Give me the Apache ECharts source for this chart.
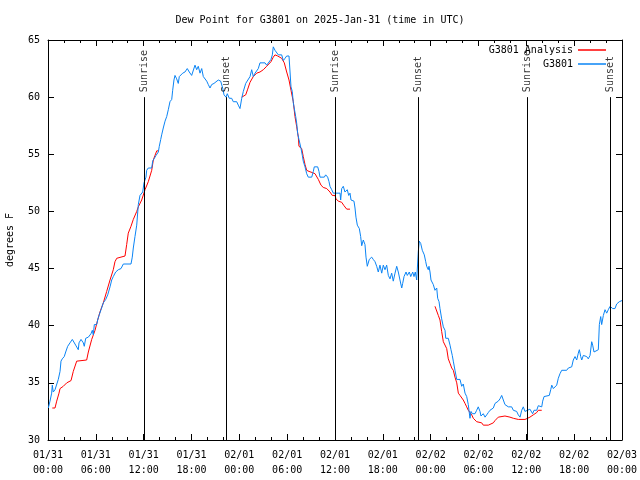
<!DOCTYPE html>
<html>
<head>
<meta charset="utf-8">
<script src="https://cdn.jsdelivr.net/npm/echarts@6/dist/echarts.min.js"></script>
<style>html,body{margin:0;padding:0;background:#fff}#c{width:640px;height:480px}</style>
</head>
<body>
<div id="c"></div>
<script>
// hours since 2025-01-31 00:00 UTC
const xTickLabels = ['01/31\n00:00','01/31\n06:00','01/31\n12:00','01/31\n18:00','02/01\n00:00','02/01\n06:00','02/01\n12:00','02/01\n18:00','02/02\n00:00','02/02\n06:00','02/02\n12:00','02/02\n18:00','02/03\n00:00'];
const sunriseHours = [12.08, 36.04, 60.13];
const sunsetHours = [22.37, 46.45, 70.54];

const observed = [
[0.04,32.8],[0.25,33.4],[0.46,34.1],[0.54,34.8],[0.66,34.2],[0.88,34.4],[1.09,34.5],[1.29,35.3],[1.51,36.0],[1.63,36.9],[1.79,37.1],[2.04,37.3],[2.22,37.7],[2.47,38.2],[2.76,38.5],[3.05,38.8],[3.30,38.9],[3.47,38.3],[3.64,38.2],[3.80,37.9],[3.89,38.5],[4.14,38.8],[4.43,38.5],[4.55,38.2],[4.73,38.9],[5.06,39.0],[5.39,39.3],[5.56,39.6],[5.68,39.2],[5.81,40.1],[6.11,40.1],[6.23,40.5],[6.40,40.9],[6.65,41.4],[6.94,42.0],[7.24,42.3],[7.49,42.7],[7.78,43.4],[7.99,44.0],[8.19,44.3],[8.49,44.7],[8.82,44.9],[9.16,45.0],[9.45,45.4],[10.41,45.4],[10.57,46.0],[10.70,46.8],[10.91,47.8],[11.13,48.8],[11.33,50.6],[11.54,51.4],[11.88,51.7],[12.04,52.5],[12.29,53.0],[12.38,53.6],[12.58,53.8],[13.01,53.8],[13.13,54.4],[13.30,54.6],[13.55,54.9],[13.71,54.9],[13.84,55.2],[13.96,55.7],[14.14,56.3],[14.26,56.7],[14.46,57.3],[14.68,57.9],[14.89,58.3],[15.09,58.9],[15.30,59.6],[15.52,59.8],[15.64,60.6],[15.80,61.5],[15.93,61.9],[16.14,61.6],[16.34,61.2],[16.47,61.8],[16.65,61.9],[16.90,62.1],[17.18,62.2],[17.47,62.5],[17.72,62.2],[18.02,61.9],[18.23,61.9],[18.44,62.8],[18.65,62.4],[18.85,62.7],[19.07,62.1],[19.28,62.5],[19.48,61.8],[19.69,61.9],[19.91,61.4],[20.11,61.1],[20.32,60.8],[20.53,61.1],[20.82,61.2],[21.07,61.3],[21.36,61.5],[21.66,61.4],[21.91,60.8],[22.08,60.2],[22.33,60.0],[22.49,60.3],[22.74,59.9],[23.04,59.9],[23.24,59.6],[23.67,59.6],[23.87,59.3],[24.08,59.0],[24.30,59.9],[24.50,60.5],[24.80,61.2],[25.05,61.3],[25.34,61.8],[25.55,62.4],[25.75,61.8],[25.97,62.1],[26.18,62.1],[26.38,62.5],[26.59,63.0],[27.22,63.0],[27.43,62.8],[27.63,62.9],[27.97,63.3],[28.14,63.7],[28.26,64.4],[28.47,64.1],[28.69,64.0],[28.89,63.7],[29.10,63.6],[29.31,63.7],[29.52,63.2],[29.73,63.4],[29.94,63.6],[30.23,63.6],[30.36,62.2],[30.48,60.9],[30.64,60.5],[30.77,59.5],[30.89,59.6],[31.07,58.3],[31.20,57.7],[31.32,56.8],[31.48,56.3],[31.74,55.5],[31.90,54.9],[32.02,54.4],[32.24,53.9],[32.45,53.3],[32.65,53.0],[33.08,53.0],[33.28,53.5],[33.40,53.9],[33.83,53.9],[33.99,53.5],[34.12,53.0],[34.66,53.0],[34.83,53.2],[35.08,53.0],[35.25,52.6],[35.37,52.2],[35.59,51.9],[35.79,51.6],[36.63,51.6],[36.71,51.0],[36.84,52.0],[37.04,52.2],[37.25,51.7],[37.38,51.6],[37.54,51.9],[37.72,51.4],[37.88,51.6],[38.01,51.0],[38.22,51.1],[38.38,50.9],[38.51,50.3],[38.63,49.5],[38.80,48.8],[39.05,48.5],[39.22,47.8],[39.35,47.0],[39.55,47.5],[39.76,47.1],[39.89,46.0],[40.05,45.2],[40.30,45.8],[40.60,46.0],[40.80,45.8],[41.02,45.6],[41.23,45.2],[41.43,44.7],[41.64,45.3],[41.86,44.6],[42.06,45.3],[42.27,44.9],[42.48,45.3],[42.69,44.4],[42.90,44.1],[43.11,44.6],[43.31,43.9],[43.53,44.6],[43.74,45.2],[43.94,44.7],[44.15,44.0],[44.37,43.3],[44.49,43.7],[44.66,44.3],[44.91,44.7],[45.07,44.4],[45.32,44.7],[45.50,44.3],[45.75,44.7],[45.91,44.3],[46.07,44.7],[46.25,44.0],[46.37,43.9],[46.45,46.5],[46.57,47.4],[46.75,47.2],[46.95,46.6],[47.20,46.2],[47.38,45.6],[47.50,45.2],[47.70,44.9],[47.79,45.2],[47.92,44.7],[48.04,44.0],[48.20,43.9],[48.33,43.6],[48.54,43.1],[48.76,43.3],[48.88,42.4],[49.05,42.1],[49.17,41.5],[49.38,40.6],[49.59,39.9],[49.80,39.6],[49.89,38.9],[50.21,38.9],[50.43,38.3],[50.55,37.9],[50.71,37.4],[50.84,36.9],[51.05,36.1],[51.27,35.3],[51.68,35.3],[51.89,34.7],[52.09,34.9],[52.31,34.1],[52.52,33.8],[52.72,33.1],[52.93,31.9],[53.06,32.5],[53.23,32.3],[53.56,32.3],[53.77,32.6],[53.97,32.9],[54.19,32.5],[54.31,32.1],[54.60,32.3],[54.82,32.0],[55.03,32.2],[55.23,32.4],[55.44,32.6],[55.66,32.5],[55.86,32.8],[56.07,33.2],[56.29,33.3],[56.48,33.4],[56.70,33.6],[56.91,33.9],[57.11,33.9],[57.32,33.1],[57.54,33.1],[57.74,32.9],[58.16,32.9],[58.37,32.6],[58.58,32.6],[58.79,32.5],[58.99,32.2],[59.21,32.0],[59.42,32.6],[59.62,32.9],[59.83,32.5],[60.04,32.6],[60.45,32.7],[60.79,32.3],[60.96,32.6],[61.30,32.6],[61.50,33.0],[61.72,33.1],[61.93,32.9],[62.05,33.4],[62.22,33.8],[62.47,33.9],[62.88,33.9],[63.06,34.4],[63.19,34.8],[63.39,34.5],[63.60,34.4],[63.81,34.8],[64.01,35.4],[64.22,35.8],[64.44,36.1],[65.06,36.1],[65.27,36.3],[65.69,36.4],[65.89,37.0],[66.11,37.3],[66.32,37.0],[66.52,37.6],[66.65,37.9],[66.82,37.3],[66.95,37.0],[67.15,37.4],[67.36,37.4],[67.57,37.3],[67.77,37.1],[67.99,37.4],[68.20,38.6],[68.32,38.3],[68.49,37.7],[68.74,37.8],[69.03,37.9],[69.16,40.1],[69.33,40.8],[69.45,40.1],[69.66,40.9],[69.87,41.4],[70.08,41.1],[70.28,41.4],[70.50,41.7],[70.83,41.5],[71.12,41.5],[71.33,41.9],[71.66,42.1],[71.84,42.0],[72.0,42.2]
];

const analysis1 = [[0.54,32.8],[0.88,32.8],[1.09,33.4],[1.38,34.1],[1.51,34.5],[1.92,34.7],[2.35,35.0],[2.89,35.2],[3.17,36.0],[3.60,36.9],[3.80,36.9],[4.85,37.0],[5.06,37.7],[5.48,38.8],[5.90,39.6],[6.23,40.5],[6.52,41.2],[6.94,42.0],[7.36,43.0],[7.78,44.0],[8.19,44.9],[8.40,45.6],[8.62,45.9],[9.66,46.1],[9.87,47.1],[10.07,48.1],[10.41,48.7],[10.70,49.3],[11.13,50.0],[11.33,50.4],[11.75,51.0],[12.17,51.9],[12.58,52.6],[13.01,53.6],[13.21,54.5],[13.42,54.9],[13.64,55.3],[13.84,55.3]];
const analysis2 = [[24.30,60.0],[24.80,60.2],[25.05,60.7],[25.34,61.3],[25.75,61.8],[26.18,62.1],[26.59,62.2],[27.01,62.4],[27.43,62.7],[27.63,62.7],[27.97,63.1],[28.26,63.5],[28.47,63.7],[28.81,63.6],[29.31,63.4],[29.64,63.0],[29.94,62.2],[30.23,61.5],[30.48,60.6],[30.77,59.6],[30.98,58.3],[31.20,57.4],[31.40,56.5],[31.48,55.7],[31.82,55.5],[32.02,54.8],[32.24,54.1],[32.45,53.6],[32.74,53.5],[33.15,53.4],[33.49,53.3],[33.70,53.2],[33.91,52.8],[34.24,52.3],[34.53,52.1],[34.96,52.0],[35.37,51.7],[35.66,51.4],[36.00,51.4],[36.13,51.1],[36.41,50.9],[36.84,50.8],[37.13,50.5],[37.47,50.2],[37.88,50.2]];
const analysis3 = [[48.54,41.7],[48.76,41.7],[48.96,40.9],[49.17,40.5],[49.38,39.5],[49.59,38.6],[49.80,38.5],[50.01,38.0],[50.21,37.1],[50.43,36.7],[50.64,36.3],[50.84,36.1],[51.05,35.5],[51.27,35.0],[51.47,34.1],[51.68,33.9],[51.89,33.8],[52.09,33.5],[52.31,33.2],[52.52,32.9],[52.72,32.6],[53.15,32.2],[53.35,31.9],[53.77,31.6],[54.40,31.5],[54.60,31.3],[55.23,31.3],[55.86,31.5],[56.07,31.7],[56.48,32.0],[57.32,32.1],[57.95,32.0],[58.37,31.9],[58.99,31.8],[59.83,31.8],[60.16,31.9],[60.45,32.0],[60.87,32.2],[61.30,32.4],[61.50,32.6],[61.93,32.6]];

const FONT = 'DejaVu Sans Mono';
const analysis = [].concat(analysis1, [[20, null]], analysis2, [[42, null]], analysis3);

const sunLines = [];
const sunLabels = [];
sunriseHours.forEach(h => { sunLines.push([{coord:[h,30]},{coord:[h,60]}]); sunLabels.push({value:[h,60], name:'Sunrise'}); });
sunsetHours.forEach(h => { sunLines.push([{coord:[h,30]},{coord:[h,60]}]); sunLabels.push({value:[h,60], name:'Sunset'}); });

const chart = echarts.init(document.getElementById('c'), null, {renderer:'canvas'});
const tickCommon = {inside:true, length:6, lineStyle:{color:'#000', width:1}};
chart.setOption({
  animation: false,
  backgroundColor: '#fff',
  textStyle: {fontFamily: FONT},
  title: {
    text: 'Dew Point for G3801 on 2025-Jan-31 (time in UTC)',
    left: 'center', top: 10,
    textStyle: {fontFamily: FONT, fontSize: 10, fontWeight: 'normal', color: '#000'}
  },
  legend: {
    orient: 'vertical', align: 'right', right: 29, top: 39,
    itemWidth: 28, itemHeight: 1.5, itemGap: 2, icon: 'rect',
    textStyle: {fontFamily: FONT, fontSize: 10, color: '#000', lineHeight: 12},
    data: ['G3801 Analysis', 'G3801']
  },
  grid: {left: 48, right: 18, top: 40, bottom: 40, containLabel: false, outerBoundsMode: 'none'},
  xAxis: [
    {type:'value', min:0, max:72, interval:6, gridIndex:0, position:'bottom',
     axisLine:{show:true, onZero:false, lineStyle:{color:'#000', width:1}},
     axisTick: tickCommon,
     minorTick:{show:true, splitNumber:3, length:3, lineStyle:{color:'#000'}},
     splitLine:{show:false}, minorSplitLine:{show:false},
     axisLabel:{fontFamily:FONT, fontSize:10, color:'#000', margin:8, lineHeight:15,
       formatter: v => xTickLabels[Math.round(v/6)]}},
    {type:'value', min:0, max:72, interval:6, gridIndex:0, position:'top',
     axisLine:{show:true, onZero:false, lineStyle:{color:'#000', width:1}},
     axisTick: tickCommon,
     minorTick:{show:true, splitNumber:3, length:3, lineStyle:{color:'#000'}},
     splitLine:{show:false}, axisLabel:{show:false}}
  ],
  yAxis: [
    {type:'value', min:30, max:65, interval:5, position:'left',
     name:'degrees F', nameLocation:'middle', nameGap:33,
     nameTextStyle:{fontFamily:FONT, fontSize:10, color:'#000'},
     axisLine:{show:true, onZero:false, lineStyle:{color:'#000', width:1}},
     axisTick: tickCommon, splitLine:{show:false},
     axisLabel:{fontFamily:FONT, fontSize:10, color:'#000', margin:8}},
    {type:'value', min:30, max:65, interval:5, position:'right',
     axisLine:{show:true, onZero:false, lineStyle:{color:'#000', width:1}},
     axisTick: tickCommon, splitLine:{show:false}, axisLabel:{show:false}}
  ],
  series: [
    {name:'G3801 Analysis', type:'line', data: analysis, showSymbol:false, symbol:'none',
     connectNulls:false, lineStyle:{color:'#ff0000', width:1}, itemStyle:{color:'#ff0000'}, z:2},
    {name:'G3801', type:'line', data: observed, showSymbol:false, symbol:'none',
     lineStyle:{color:'#0a84f5', width:1}, itemStyle:{color:'#0a84f5'}, z:3,
     markLine:{silent:true, symbol:'none', label:{show:false},
       lineStyle:{color:'#000', width:1, type:'solid'}, data: sunLines}},
    {name:'sun', type:'scatter', data: sunLabels, symbolSize:0, silent:true, z:4,
     label:{show:true, position:'top', distance:5, rotate:90, align:'left', verticalAlign:'middle',
       fontFamily:FONT, fontSize:10, color:'#000', formatter: p => p.name}}
  ]
});
</script>
</body>
</html>
